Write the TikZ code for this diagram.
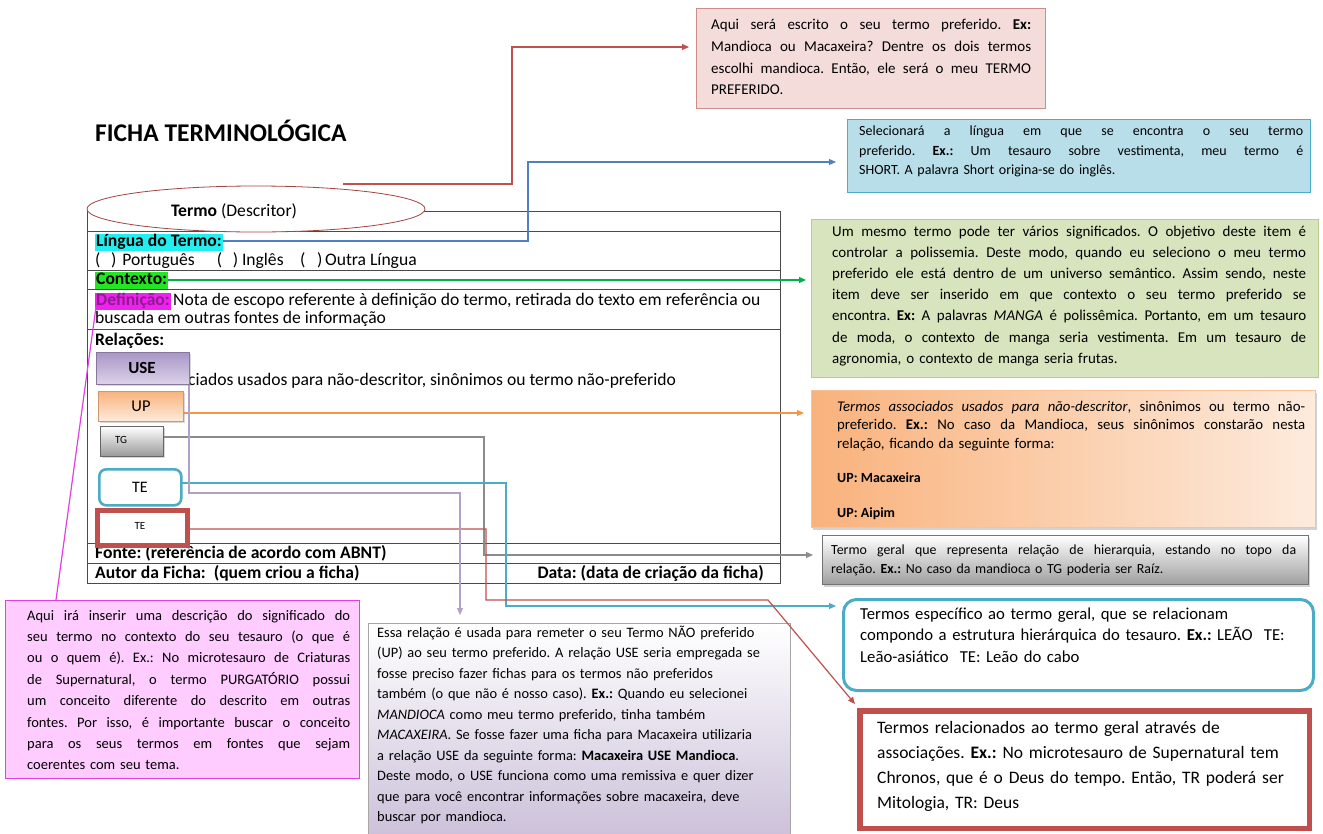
\documentclass[tikz,border=0pt]{standalone}
\usepackage{fontspec}
\setmainfont{Carlito}
\usetikzlibrary{arrows.meta,shapes.geometric,shadows}
\definecolor{rbd}{HTML}{C0504D}
\definecolor{rbdl}{HTML}{D08A88}
\definecolor{rfill}{HTML}{F4DCDB}
\definecolor{bbd}{HTML}{4BACC6}
\definecolor{bfill}{HTML}{B8DEE9}
\definecolor{gbd}{HTML}{B5CC8A}
\definecolor{gfill}{HTML}{D7E4BD}
\definecolor{ofillA}{HTML}{F9B27C}
\definecolor{ofillB}{HTML}{FDEBDD}
\definecolor{orl}{HTML}{F79646}
\definecolor{tealc}{HTML}{4BACC6}
\definecolor{pinkfill}{HTML}{FFCCFF}
\definecolor{magc}{HTML}{E040E0}
\definecolor{purpB}{HTML}{CCC1DA}
\definecolor{purpl}{HTML}{B3A2C7}
\definecolor{purpA}{HTML}{A896C6}
\definecolor{purpC}{HTML}{DCD3EA}
\definecolor{bluel}{HTML}{4F81BD}
\definecolor{greenl}{HTML}{00B050}
\definecolor{grayl}{HTML}{8C8C8C}
\definecolor{formc}{HTML}{4A4A4A}
\definecolor{hcyan}{HTML}{22EEF0}
\definecolor{hgreen}{HTML}{22E622}
\definecolor{hmag}{HTML}{F020F0}
\definecolor{defc}{HTML}{8A1E8A}
\newlength\jlw
\newcommand\jl[1]{\leavevmode\hbox to \jlw{\spaceskip=0.226em plus 1fil minus 0.06em\relax #1}}
\frenchspacing
\begin{document}
\frenchspacing
\begin{tikzpicture}[x=1pt,y=-1pt,
  conn/.style={line width=1.2pt},
  tip/.style={-{Triangle[length=7pt,width=6pt]}},
  ftxt/.style={inner sep=0pt, anchor=base west, font=\fontsize{17.6}{19}\selectfont},
  fbold/.style={ftxt, font=\bfseries\fontsize{17.6}{19}\selectfont},
  hl/.style={ftxt, inner xsep=1pt, inner ysep=0pt, text height=13pt, text depth=4.5pt, font=\bfseries\fontsize{17.6}{19}\selectfont},
  bt/.style={inner sep=0pt, anchor=base west, align=left},
  bx/.style={anchor=north west, inner sep=0pt}
]
\useasboundingbox (0,0) rectangle (1323,833);
\fill[white] (0,0) rectangle (1323,833);

% title
\node[inner sep=0pt, anchor=base west, font=\bfseries\fontsize{25.5}{28}\selectfont] (title) at (95,141.5) {FICHA TERMINOLÓGICA};

% ---------- right-hand boxes ----------
\node[bx, draw=rbdl, fill=rfill, line width=1.3pt, minimum width=349, minimum height=100] (b1) at (696,8) {};
\node[bt, text width=320, font=\fontsize{15}{21.6}\selectfont] (b1t) at (711,29.8)
 {\setlength\jlw{320pt}%
  \jl{Aqui será escrito o seu termo preferido. \textbf{Ex:}}\\
  \jl{Mandioca ou Macaxeira? Dentre os dois termos}\\
  \jl{escolhi mandioca. Então, ele será o meu TERMO}\\
  PREFERIDO.};

\node[bx, draw=bbd, fill=bfill, line width=1.2pt, minimum width=463, minimum height=73] (b2) at (847,119) {};
\node[bt, text width=444, font=\fontsize{14}{19.5}\selectfont] (b2t) at (859,135.5)
 {\setlength\jlw{444pt}%
  \jl{Selecionará a língua em que se encontra o seu termo}\\
  \jl{preferido. \textbf{Ex.:} Um tesauro sobre vestimenta, meu termo é}\\
  SHORT. A palavra Short origina-se do inglês.};

\node[bx, draw=gbd, fill=gfill, line width=1.2pt, minimum width=507, minimum height=158] (b3) at (811,219) {};
\node[bt, text width=474, font=\fontsize{15}{21.1}\selectfont] (b3t) at (832,236.5)
 {\setlength\jlw{474pt}%
  \jl{Um mesmo termo pode ter vários significados. O objetivo deste item é}\\
  \jl{controlar a polissemia. Deste modo, quando eu seleciono o meu termo}\\
  \jl{preferido ele está dentro de um universo semântico. Assim sendo, neste}\\
  \jl{item deve ser inserido em que contexto o seu termo preferido se}\\
  \jl{encontra. \textbf{Ex:} A palavras \textit{MANGA} é polissêmica. Portanto, em um tesauro}\\
  \jl{de moda, o contexto de manga seria vestimenta. Em um tesauro de}\\
  agronomia, o contexto de manga seria frutas.};

\node[bx, left color=ofillA, right color=ofillB, draw=ofillA!80!white, line width=0.6pt,
      drop shadow={shadow xshift=2pt, shadow yshift=-2.5pt, opacity=0.35},
      minimum width=504, minimum height=137] (b4) at (811,390) {};
\node[bt, text width=468, font=\fontsize{14.8}{18.5}\selectfont] (b4t) at (837,411)
 {\setlength\jlw{468pt}%
  \jl{\textit{Termos associados usados para não-descritor}, sinônimos ou termo não-}\\
  \jl{preferido. \textbf{Ex.:} No caso da Mandioca, seus sinônimos constarão nesta}\\
  relação, ficando da seguinte forma:};
\node[bt, font=\bfseries\fontsize{14}{18.5}\selectfont] (b4u1) at (837,482.5) {UP: Macaxeira};
\node[bt, font=\bfseries\fontsize{14}{18.5}\selectfont] (b4u2) at (837,517.5) {UP: Aipim};

\node[bx, top color=white, bottom color=black!38, draw=black!55, line width=0.8pt,
      drop shadow={shadow xshift=2pt, shadow yshift=-2.5pt, opacity=0.35},
      minimum width=486, minimum height=49] (b5) at (822,535) {};
\node[bt, text width=465, font=\fontsize{13.9}{19}\selectfont] (b5t) at (831,554.5)
 {\setlength\jlw{465pt}%
  \jl{Termo geral que representa relação de hierarquia, estando no topo da}\\
  relação. \textbf{Ex.:} No caso da mandioca o TG poderia ser Raíz.};

\node[bx, draw=tealc, fill=white, line width=3pt, rounded corners=13pt, minimum width=470, minimum height=91] (b6) at (842,598) {};
\node[bt, text width=445, font=\fontsize{16.7}{21.5}\selectfont] (b6t) at (860,619)
 {Termos específico ao termo geral, que se relacionam\\
  compondo a estrutura hierárquica do tesauro. \textbf{Ex.:} LEÃO\ \ TE:\\
  Leão-asiático\ \ TE: Leão do cabo};

\node[bx, draw=rbd, fill=white, line width=5pt, minimum width=450, minimum height=118] (b7) at (857,708) {};
\draw[rbd, line width=1pt] ([shift={(5pt,-5pt)}]b7.north west) rectangle ([shift={(-5pt,5pt)}]b7.south east);
\node[bt, text width=425, font=\fontsize{17.5}{25}\selectfont] (b7t) at (877,733.6)
 {Termos relacionados ao termo geral através de\\
  associações. \textbf{Ex.:} No microtesauro de Supernatural tem\\
  Chronos, que é o Deus do tempo. Então, TR poderá ser\\
  Mitologia, TR: Deus};

% ---------- bottom boxes ----------
\node[bx, draw=magc, fill=pinkfill, line width=0.8pt, minimum width=354, minimum height=178] (b8) at (5,600) {};
\node[bt, text width=323, font=\fontsize{14.5}{21.4}\selectfont] (b8t) at (27,620)
 {\setlength\jlw{323pt}%
  \jl{Aqui irá inserir uma descrição do significado do}\\
  \jl{seu termo no contexto do seu tesauro (o que é}\\
  \jl{ou o quem é). Ex.: No microtesauro de Criaturas}\\
  \jl{de Supernatural, o termo PURGATÓRIO possui}\\
  \jl{um conceito diferente do descrito em outras}\\
  \jl{fontes. Por isso, é importante buscar o conceito}\\
  \jl{para os seus termos em fontes que sejam}\\
  coerentes com seu tema.};

\node[bx, top color=white, bottom color=purpB, draw=black!35, line width=0.6pt, minimum width=422, minimum height=212] (b9) at (368,623) {};
\node[bt, text width=412, font=\fontsize{14.4}{20.5}\selectfont] (b9t) at (377,637)
 {Essa relação é usada para remeter o seu Termo NÃO preferido\\
  (UP) ao seu termo preferido. A relação USE seria empregada se\\
  fosse preciso fazer fichas para os termos não preferidos\\
  também (o que não é nosso caso). \textbf{Ex.:} Quando eu selecionei\\
  \textit{MANDIOCA} como meu termo preferido, tinha também\\
  \textit{MACAXEIRA}. Se fosse fazer uma ficha para Macaxeira utilizaria\\
  a relação USE da seguinte forma: \textbf{Macaxeira USE Mandioca}.\\
  Deste modo, o USE funciona como uma remissiva e quer dizer\\
  que para você encontrar informações sobre macaxeira, deve\\
  buscar por mandioca.};

% ---------- form ----------
\draw[formc, line width=1pt] (87,211) rectangle (780,583);
\foreach \yy in {231,270,289,329,543,563} \draw[formc, line width=1pt] (87,\yy) -- (780,\yy);

\node[ellipse, draw=rbd!85!black, fill=white, minimum width=338, minimum height=46, inner sep=0pt, line width=0.8pt] (ell) at (256,209) {};
\node[inner sep=0pt, anchor=base, font=\fontsize{17.6}{19}\selectfont] (termo) at (234,216.5) {\textbf{Termo} (Descritor)};

\node[hl, fill=hcyan] (lingua) at (95,246.5) {Língua do Termo:};
\node[ftxt] (opts) at (95,265.5) {(\hspace{10.7pt})\hspace{5.7pt}Português\hspace{22.2pt}(\hspace{10.7pt})\hspace{3.7pt}Inglês\hspace{16.4pt}(\hspace{11.7pt})\hspace{2.7pt}Outra Língua};
\node[hl, fill=hgreen] (contexto) at (95,284.5) {Contexto:};
\node[hl, fill=hmag, text=defc] (def) at (95,305.5) {Definição:};
\node[ftxt] (defa) at (173,305.5) {Nota de escopo referente à definição do termo, retirada do texto em referência ou};
\node[ftxt] (defb) at (95,323.5) {buscada em outras fontes de informação};
\node[fbold] (rel) at (95,345.5) {Relações:};
\node[ftxt] (relt) at (188,385.5) {ciados usados para não-descritor, sinônimos ou termo não-preferido};
\node[fbold] (fonte) at (95,558.5) {Fonte: (referência de acordo com ABNT)};
\node[fbold] (autor) at (95,578.5) {Autor da Ficha:\ \ (quem criou a ficha)};
\node[fbold, anchor=base east] (data) at (764,578.5) {Data: (data de criação da ficha)};

% ---------- connectors ----------
\coordinate (r1s) at (343,184);
\coordinate (r1e) at (689,47);
\draw[conn, rbd, tip] (r1s) -- (512,184) |- (r1e);

\coordinate (ble) at (836,162);
\draw[conn, bluel, tip] (lingua.east |- 0,241) -- (528,241) |- (ble);

\coordinate (gre) at (806,280);
\draw[conn, greenl, tip] (contexto.east |- 0,280) -- (gre);

\coordinate (ups) at (183,413);
\coordinate (ore) at (804,413);
\draw[conn, orl, tip] (ups) -- (ore);

\coordinate (tgs) at (163,437);
\coordinate (tge) at (813,555);
\draw[conn, grayl, tip] (tgs) -- (484,437) |- (tge);

\coordinate (te1s) at (180,483);
\coordinate (te1e) at (836,606);
\draw[conn, tealc, tip] (te1s) -- (506,483) |- (te1e);

\coordinate (te2s) at (185,529);
\coordinate (te2e) at (855,704);
\draw[conn, rbd, tip] (te2s) -- (486,529) -- (486,600) -- (768,600) -- (te2e);

\coordinate (uses) at (189,384);
\coordinate (usee) at (460,615);
\draw[conn, purpl, tip] (uses) -- (189,493) -| (usee);

\coordinate (defs) at (96,307);
\coordinate (defe) at (56,600);
\draw[conn, magc] (defs) -- (defe);

% ---------- relation boxes ----------
\node[bx, top color=purpA, bottom color=purpC, draw=purpA!80!black, line width=0.5pt,
      drop shadow={shadow xshift=1.5pt, shadow yshift=-1.5pt, opacity=0.3},
      minimum width=93, minimum height=32] (use) at (96,352) {};
\node[inner sep=0pt, font=\bfseries\fontsize{17}{20}\selectfont] (uset) at (142,368) {USE};

\node[bx, top color=ofillA, bottom color=ofillB, draw=ofillA!85!black, line width=0.5pt,
      drop shadow={shadow xshift=1.5pt, shadow yshift=-1.5pt, opacity=0.3},
      minimum width=85, minimum height=30] (up) at (98,391) {};
\node[inner sep=0pt, font=\fontsize{16.5}{20}\selectfont] (upt) at (141,406.5) {UP};

\node[bx, top color=white, bottom color=black!40, draw=black!60, line width=0.6pt,
      drop shadow={shadow xshift=1.5pt, shadow yshift=-1.5pt, opacity=0.3},
      minimum width=63, minimum height=30] (tg) at (100,426) {};
\node[inner sep=0pt, font=\fontsize{11}{13}\selectfont] (tgt) at (121,440) {TG};

\node[bx, draw=tealc, fill=white, line width=2.6pt, rounded corners=7pt, minimum width=82, minimum height=36] (te1) at (98,468) {};
\node[inner sep=0pt, font=\fontsize{16}{19}\selectfont] (te1t) at (140,487) {TE};

\node[bx, draw=rbd, fill=white, line width=4.5pt, minimum width=90, minimum height=35] (te2) at (95,508) {};
\draw[rbd, line width=0.8pt] ([shift={(4.5pt,-4.5pt)}]te2.north west) rectangle ([shift={(-4.5pt,4.5pt)}]te2.south east);
\node[inner sep=0pt, font=\fontsize{11}{13}\selectfont] (te2t) at (140,526) {TE};

\end{tikzpicture}
\end{document}
